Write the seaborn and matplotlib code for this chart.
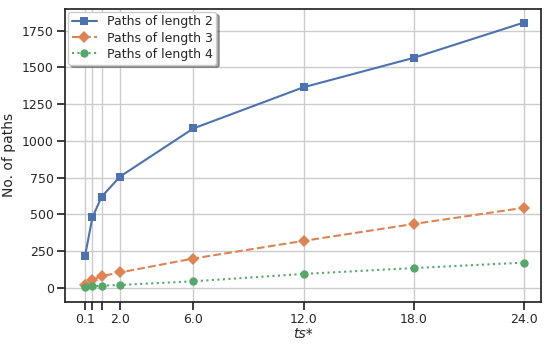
import matplotlib
matplotlib.use("Agg")
import matplotlib.pyplot as plt
import pandas as pd
import seaborn as sns

ts = [0.1, 0.5, 1.0, 2.0, 6.0, 12.0, 18.0, 24.0]
paths_len2 = [220, 480, 620, 757, 1085, 1365, 1565, 1805]
paths_len3 = [20, 55, 80, 105, 200, 320, 435, 545]
paths_len4 = [5, 10, 15, 20, 45, 95, 135, 172]
tick_labels = ["0.1", "", "", "2.0", "6.0", "12.0", "18.0", "24.0"]

sns.set_theme(style="ticks", palette="deep")

df = pd.DataFrame({"ts": ts, "l2": paths_len2, "l3": paths_len3, "l4": paths_len4})

fig, ax = plt.subplots(figsize=(5.5, 3.45), dpi=100)
ax.grid(True, color="#cccccc", linewidth=1)
ax.set_axisbelow(True)

sns.lineplot(data=df, x="ts", y="l2", marker="s", markersize=6, markeredgewidth=0,
             linestyle="-", linewidth=1.5, label="Paths of length 2", ax=ax)
sns.lineplot(data=df, x="ts", y="l3", marker="D", markersize=6, markeredgewidth=0,
             linestyle="--", linewidth=1.5, label="Paths of length 3", ax=ax)
sns.lineplot(data=df, x="ts", y="l4", marker="o", markersize=6, markeredgewidth=0,
             linestyle=":", linewidth=1.5, label="Paths of length 4", ax=ax)

ax.set_xticks(ts)
ax.set_xticklabels(tick_labels)
ax.set_xlim(-1.0, 24.95)
ax.set_ylim(-95, 1900)
ax.set_yticks([0, 250, 500, 750, 1000, 1250, 1500, 1750])
ax.set_xlabel("ts*", fontstyle="italic", fontsize=10, labelpad=1)
ax.set_ylabel("No. of paths", fontsize=10)
ax.tick_params(labelsize=9, pad=2)
ax.legend(loc="upper left", shadow=True, fontsize=9, frameon=True,
          labelspacing=0.25, borderaxespad=0.25, borderpad=0.3)

fig.subplots_adjust(left=0.118, right=0.984, top=0.975, bottom=0.125)
fig.savefig("out.png", dpi=100)
